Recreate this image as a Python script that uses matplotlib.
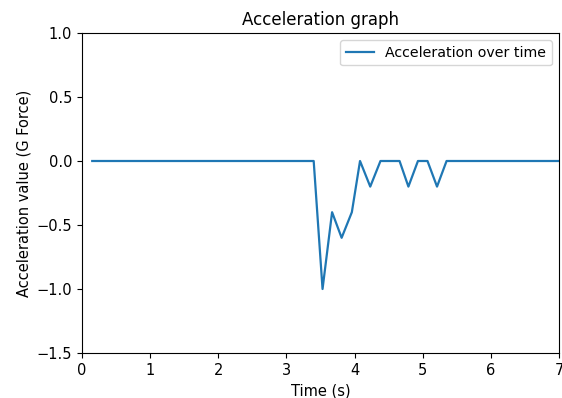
import numpy as np
import matplotlib.pyplot as plt

# tiempo (s) y aceleración (G)
tiempo = [0.15, 3.40, 3.53, 3.67, 3.81, 3.96, 4.08, 4.23, 4.38, 4.66, 4.79, 4.93, 5.07, 5.21, 5.35, 7.0]
aceleracion = [0.0, 0.0, -1.0, -0.4, -0.6, -0.4, 0.0, -0.2, 0.0, 0.0, -0.2, 0.0, 0.0, -0.2, 0.0, 0.0]

fig = plt.figure(figsize=(5.62, 3.98), dpi=100)
ax = fig.add_axes([82 / 562, 1 - 353 / 398, 477 / 562, 320 / 398])

ax.plot(tiempo, aceleracion, color='#1f77b4', linewidth=1.6, label='Acceleration over time')

ax.set_xlim(0, 7)
ax.set_ylim(-1.5, 1.0)
ax.set_xticks(np.arange(0, 8, 1))
ax.set_yticks([-1.5, -1.0, -0.5, 0.0, 0.5, 1.0])
ax.tick_params(labelsize=10.5)

ax.set_title('Acceleration graph', fontsize=12)
ax.set_xlabel('Time (s)', fontsize=10.5)
ax.set_ylabel('Acceleration value (G Force)', fontsize=10.5)
ax.legend(loc='upper right', fontsize=10.2)

fig.savefig('out.png', dpi=100)
